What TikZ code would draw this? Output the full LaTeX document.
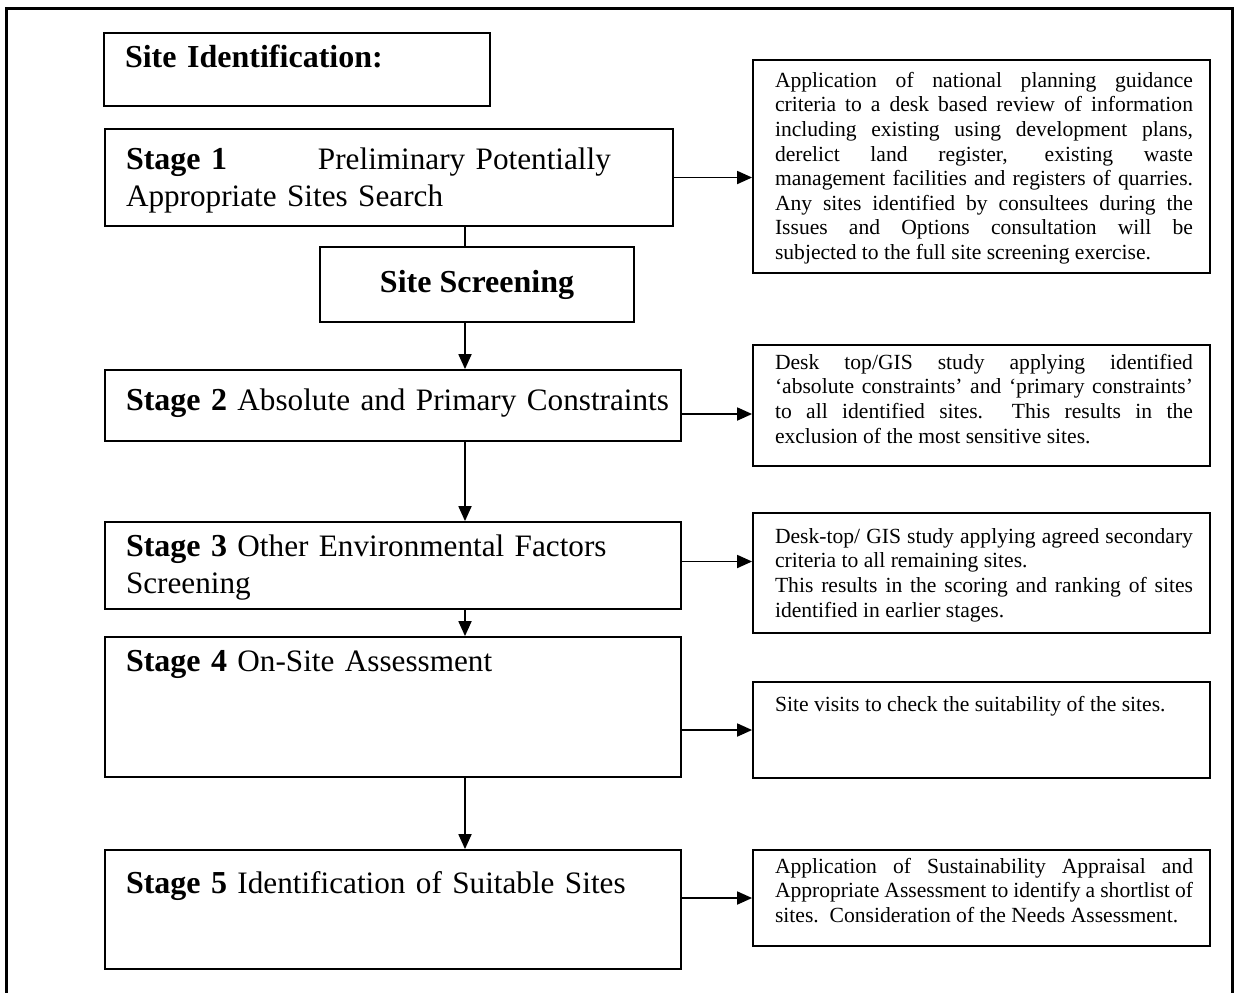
\documentclass[tikz,border=0pt]{standalone}
\usepackage{fontspec}
\setmainfont{Liberation Serif}
\usetikzlibrary{arrows.meta,fit,positioning}
\hyphenpenalty=10000
\exhyphenpenalty=10000
\tolerance=10000
\hbadness=10000
\newcommand{\stagelabel}[1]{{\fontsize{16}{18.4}\selectfont\bfseries Stage #1}}
\begin{document}
\begin{tikzpicture}[x=0.5pt, y=-0.5pt, line width=0.9pt, >={Triangle[length=7.5pt,width=6.5pt]},
	box/.style={draw, inner sep=0pt},
	stagetext/.style={font=\fontsize{15.6}{18.4}\selectfont, inner sep=0pt, anchor=north west, text width=285pt, align=left},
	notetext/.style={font=\fontsize{10.8}{12.3}\selectfont, inner sep=0pt, anchor=north west, text width=209pt, align=justify}]
				\useasboundingbox (0,0) rectangle (1238,992);
				\draw[line width=1.5pt] (6,1010) -- (6,8) -- (1232,8) -- (1232,1010);
				\coordinate (spine) at (465,0);
				\node[box, fit={(104,33) (490,106)}] (sid) {};
				\node[stagetext, font=\fontsize{16}{18.4}\selectfont\bfseries] (sidt) at ([shift={(21,9)}]sid.north west) {\strut Site Identification:};
				\node[box, fit={(105,129) (673,226)}] (s1) {};
				\node[stagetext] (s1t) at ([shift={(21,15)}]s1.north west) {\strut\makebox[96pt][l]{\stagelabel{1}}Preliminary Potentially\\Appropriate Sites Search};
				\node[box, fit={(320,247) (634,322)}] (ss) {};
				\node[font=\fontsize{16}{18.4}\selectfont\bfseries] (sst) at (ss) {Site Screening};
				\node[box, fit={(105,370) (681,441)}] (s2) {};
				\node[stagetext] (s2t) at ([shift={(21,15)}]s2.north west) {\strut\stagelabel{2} Absolute and Primary Constraints};
				\node[box, fit={(105,522) (681,609)}] (s3) {};
				\node[stagetext] (s3t) at ([shift={(21,9)}]s3.north west) {\strut\stagelabel{3} Other Environmental Factors\\Screening};
				\node[box, fit={(105,637) (681,777)}] (s4) {};
				\node[stagetext] (s4t) at ([shift={(21,9)}]s4.north west) {\strut\stagelabel{4} On-Site Assessment};
				\node[box, fit={(105,850) (681,969)}] (s5) {};
				\node[stagetext] (s5t) at ([shift={(21,18)}]s5.north west) {\strut\stagelabel{5} Identification of Suitable Sites};
				\node[box, fit={(753,60) (1210,273)}] (r1) {};
				\node[notetext] (r1t) at ([shift={(22,10)}]r1.north west) {\strut Application of national planning guidance\linebreak criteria to a desk based review of information\linebreak including existing using development plans,\linebreak derelict land register, existing waste\linebreak management facilities and registers of quarries.\linebreak Any sites identified by consultees during the\linebreak Issues and Options consultation will be\linebreak subjected to the full site screening exercise.};
				\node[box, fit={(753,345) (1210,466)}] (r2) {};
				\node[notetext] (r2t) at ([shift={(22,7)}]r2.north west) {\strut Desk top/GIS study applying identified\linebreak ‘absolute constraints’ and ‘primary constraints’\linebreak to all identified sites.\ \ This results in the\linebreak exclusion of the most sensitive sites.};
				\node[box, fit={(753,513) (1210,633)}] (r3) {};
				\node[notetext] (r3t) at ([shift={(22,13)}]r3.north west) {\strut Desk-top/ GIS study applying agreed secondary\linebreak criteria to all remaining sites.\newline This results in the scoring and ranking of sites\linebreak identified in earlier stages.};
				\node[box, fit={(753,682) (1210,778)}] (r4) {};
				\node[notetext] (r4t) at ([shift={(22,12)}]r4.north west) {\strut Site visits to check the suitability of the sites.};
				\node[box, fit={(753,850) (1210,946)}] (r5) {};
				\node[notetext] (r5t) at ([shift={(22,6)}]r5.north west) {\strut Application of Sustainability Appraisal and\linebreak Appropriate Assessment to identify a shortlist of\linebreak sites.\ \ Consideration of the Needs Assessment.};
				\draw (s1.south -| spine) -- (ss.north -| spine);
				\draw[->] (ss.south -| spine) -- (s2.north -| spine);
				\draw[->] (s2.south -| spine) -- (s3.north -| spine);
				\draw[->] (s3.south -| spine) -- (s4.north -| spine);
				\draw[->] (s4.south -| spine) -- (s5.north -| spine);
				\draw[->] (s1.east) -- (s1.east -| r1.west);
				\draw[->] ([yshift=-4.25pt]s2.east) -- ([yshift=-4.25pt]s2.east -| r2.west);
				\draw[->] ([yshift=2pt]s3.east) -- ([yshift=2pt]s3.east -| r3.west);
				\draw[->] (r4.west -| s4.east) -- (r4.west);
				\draw[->] (r5.west -| s5.east) -- (r5.west);
			\end{tikzpicture}
\end{document}
